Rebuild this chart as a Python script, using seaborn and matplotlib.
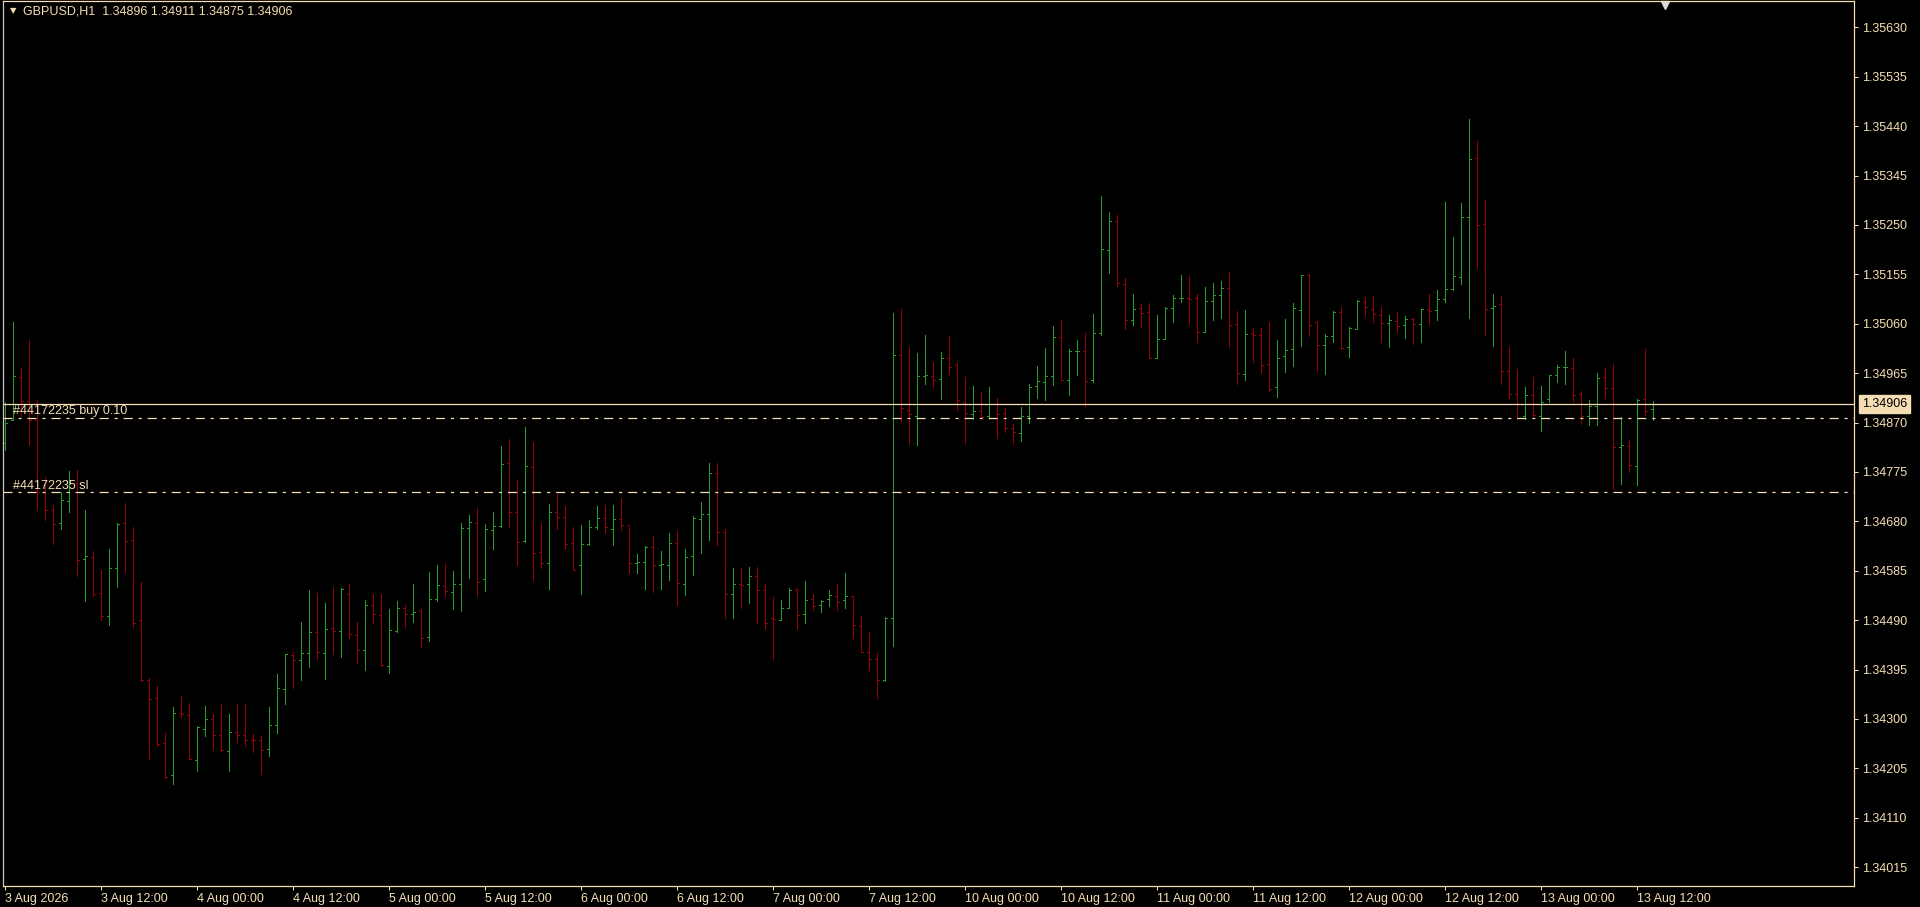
import matplotlib
matplotlib.use("Agg")
import numpy as np
import pandas as pd
import matplotlib.pyplot as plt
import seaborn as sns

# GBPUSD H1, barras OHLC
header = "GBPUSD,H1  1.34896 1.34911 1.34875 1.34906"

opens = [
    1.34830, 1.34874, 1.34957, 1.34912, 1.34874, 1.34737, 1.34701, 1.34676, 1.34720, 1.34753,
    1.34608, 1.34612, 1.34542, 1.34498, 1.34591, 1.34676, 1.34645, 1.34491, 1.34375, 1.34341,
    1.34253, 1.34192, 1.34312, 1.34308, 1.34221, 1.34280, 1.34299, 1.34269, 1.34238, 1.34274,
    1.34270, 1.34260, 1.34259, 1.34243, 1.34288, 1.34358, 1.34423, 1.34414, 1.34426, 1.34467,
    1.34426, 1.34474, 1.34469, 1.34541, 1.34461, 1.34432, 1.34519, 1.34500, 1.34402, 1.34469,
    1.34514, 1.34501, 1.34507, 1.34457, 1.34530, 1.34555, 1.34544, 1.34559, 1.34668, 1.34676,
    1.34570, 1.34664, 1.34671, 1.34792, 1.34697, 1.34643, 1.34785, 1.34621, 1.34599, 1.34697,
    1.34689, 1.34639, 1.34596, 1.34636, 1.34669, 1.34687, 1.34666, 1.34685, 1.34672, 1.34599,
    1.34601, 1.34631, 1.34596, 1.34596, 1.34639, 1.34560, 1.34613, 1.34685, 1.34694, 1.34772,
    1.34659, 1.34540, 1.34560, 1.34560, 1.34575, 1.34547, 1.34494, 1.34491, 1.34514, 1.34548,
    1.34501, 1.34530, 1.34519, 1.34530, 1.34536, 1.34528, 1.34536, 1.34478, 1.34428, 1.34416,
    1.34374, 1.34495, 1.35000, 1.34894, 1.34883, 1.34960, 1.34960, 1.34953, 1.34995, 1.34980,
    1.34909, 1.34887, 1.34892, 1.34882, 1.34905, 1.34889, 1.34860, 1.34849, 1.34883, 1.34941,
    1.34947, 1.34960, 1.35034, 1.34951, 1.35007, 1.35008, 1.34951, 1.35043, 1.35201, 1.35257,
    1.35137, 1.35068, 1.35091, 1.35082, 1.34995, 1.35030, 1.35090, 1.35109, 1.35109, 1.35109,
    1.35045, 1.35103, 1.35116, 1.35128, 1.35060, 1.34964, 1.35043, 1.35039, 1.34982, 1.34939,
    1.34998, 1.35011, 1.35087, 1.35154, 1.35063, 1.35020, 1.35037, 1.35082, 1.35015, 1.35049,
    1.35102, 1.35088, 1.35077, 1.35062, 1.35066, 1.35057, 1.35070, 1.35059, 1.35088, 1.35086,
    1.35107, 1.35127, 1.35150, 1.35266, 1.35378, 1.35251, 1.35091, 1.35097, 1.34970, 1.34924,
    1.34882, 1.34922, 1.34882, 1.34916, 1.34961, 1.34976, 1.34974, 1.34924, 1.34882, 1.34901,
    1.34957, 1.34936, 1.34823, 1.34824, 1.34787, 1.34916, 1.34896,
]
highs = [
    1.34910, 1.35063, 1.34974, 1.35028, 1.34914, 1.34766, 1.34711, 1.34737, 1.34776, 1.34778,
    1.34701, 1.34623, 1.34587, 1.34626, 1.34676, 1.34716, 1.34669, 1.34563, 1.34378, 1.34363,
    1.34272, 1.34322, 1.34344, 1.34330, 1.34286, 1.34325, 1.34310, 1.34328, 1.34310, 1.34328,
    1.34328, 1.34271, 1.34267, 1.34322, 1.34387, 1.34424, 1.34429, 1.34486, 1.34548, 1.34543,
    1.34522, 1.34554, 1.34552, 1.34560, 1.34486, 1.34528, 1.34540, 1.34541, 1.34511, 1.34527,
    1.34519, 1.34560, 1.34511, 1.34582, 1.34596, 1.34598, 1.34584, 1.34677, 1.34692, 1.34706,
    1.34675, 1.34698, 1.34825, 1.34838, 1.34759, 1.34861, 1.34832, 1.34677, 1.34713, 1.34732,
    1.34709, 1.34669, 1.34673, 1.34682, 1.34709, 1.34711, 1.34711, 1.34725, 1.34672, 1.34617,
    1.34632, 1.34652, 1.34623, 1.34657, 1.34661, 1.34626, 1.34690, 1.34717, 1.34792, 1.34792,
    1.34665, 1.34591, 1.34591, 1.34592, 1.34592, 1.34560, 1.34535, 1.34528, 1.34552, 1.34552,
    1.34565, 1.34541, 1.34528, 1.34548, 1.34559, 1.34581, 1.34536, 1.34498, 1.34468, 1.34426,
    1.34496, 1.35080, 1.35088, 1.35015, 1.35003, 1.35038, 1.34987, 1.35005, 1.35036, 1.34984,
    1.34957, 1.34940, 1.34928, 1.34938, 1.34917, 1.34897, 1.34868, 1.34899, 1.34944, 1.34978,
    1.35013, 1.35055, 1.35067, 1.35011, 1.35028, 1.35042, 1.35078, 1.35305, 1.35275, 1.35269,
    1.35148, 1.35117, 1.35098, 1.35100, 1.35076, 1.35092, 1.35115, 1.35153, 1.35151, 1.35117,
    1.35130, 1.35138, 1.35142, 1.35159, 1.35084, 1.35086, 1.35052, 1.35052, 1.35063, 1.35028,
    1.35069, 1.35100, 1.35154, 1.35156, 1.35066, 1.35040, 1.35084, 1.35092, 1.35053, 1.35105,
    1.35111, 1.35113, 1.35092, 1.35077, 1.35082, 1.35075, 1.35071, 1.35088, 1.35117, 1.35125,
    1.35294, 1.35227, 1.35292, 1.35453, 1.35411, 1.35298, 1.35117, 1.35114, 1.35015, 1.34973,
    1.34938, 1.34957, 1.34940, 1.34961, 1.34980, 1.35007, 1.34994, 1.34930, 1.34913, 1.34965,
    1.34975, 1.34982, 1.34880, 1.34836, 1.34916, 1.35011, 1.34911,
]
lows = [
    1.34818, 1.34874, 1.34882, 1.34827, 1.34701, 1.34683, 1.34637, 1.34666, 1.34697, 1.34575,
    1.34527, 1.34537, 1.34491, 1.34480, 1.34554, 1.34583, 1.34476, 1.34373, 1.34223, 1.34248,
    1.34187, 1.34174, 1.34303, 1.34222, 1.34200, 1.34267, 1.34241, 1.34238, 1.34200, 1.34256,
    1.34248, 1.34237, 1.34195, 1.34229, 1.34272, 1.34328, 1.34360, 1.34375, 1.34400, 1.34416,
    1.34376, 1.34424, 1.34419, 1.34455, 1.34408, 1.34395, 1.34485, 1.34402, 1.34389, 1.34468,
    1.34476, 1.34487, 1.34439, 1.34450, 1.34527, 1.34537, 1.34511, 1.34508, 1.34571, 1.34537,
    1.34546, 1.34626, 1.34669, 1.34669, 1.34596, 1.34641, 1.34568, 1.34591, 1.34550, 1.34665,
    1.34626, 1.34587, 1.34541, 1.34635, 1.34666, 1.34657, 1.34634, 1.34664, 1.34580, 1.34581,
    1.34550, 1.34544, 1.34550, 1.34568, 1.34520, 1.34539, 1.34576, 1.34619, 1.34645, 1.34635,
    1.34494, 1.34494, 1.34514, 1.34522, 1.34485, 1.34473, 1.34416, 1.34491, 1.34514, 1.34473,
    1.34485, 1.34509, 1.34505, 1.34518, 1.34510, 1.34514, 1.34455, 1.34428, 1.34395, 1.34341,
    1.34373, 1.34441, 1.34872, 1.34829, 1.34827, 1.34945, 1.34939, 1.34916, 1.34964, 1.34895,
    1.34831, 1.34876, 1.34878, 1.34878, 1.34841, 1.34852, 1.34831, 1.34835, 1.34870, 1.34917,
    1.34914, 1.34942, 1.34951, 1.34923, 1.34962, 1.34901, 1.34947, 1.35039, 1.35158, 1.35133,
    1.35050, 1.35058, 1.35054, 1.34995, 1.34995, 1.35030, 1.35064, 1.35102, 1.35060, 1.35025,
    1.35045, 1.35067, 1.35071, 1.35016, 1.34944, 1.34952, 1.34987, 1.34966, 1.34931, 1.34920,
    1.34968, 1.34979, 1.35018, 1.35037, 1.34970, 1.34964, 1.35025, 1.35012, 1.34996, 1.35049,
    1.35075, 1.35064, 1.35025, 1.35016, 1.35045, 1.35033, 1.35021, 1.35025, 1.35059, 1.35068,
    1.35102, 1.35124, 1.35137, 1.35071, 1.35168, 1.35039, 1.35018, 1.34945, 1.34918, 1.34876,
    1.34877, 1.34883, 1.34854, 1.34910, 1.34948, 1.34944, 1.34910, 1.34868, 1.34866, 1.34866,
    1.34918, 1.34743, 1.34752, 1.34775, 1.34750, 1.34885, 1.34875,
]
closes = [
    1.34870, 1.34959, 1.34912, 1.34874, 1.34737, 1.34701, 1.34674, 1.34721, 1.34753, 1.34605,
    1.34613, 1.34540, 1.34498, 1.34591, 1.34675, 1.34642, 1.34485, 1.34375, 1.34339, 1.34251,
    1.34189, 1.34312, 1.34310, 1.34222, 1.34284, 1.34299, 1.34270, 1.34240, 1.34274, 1.34270,
    1.34260, 1.34259, 1.34241, 1.34289, 1.34360, 1.34424, 1.34414, 1.34426, 1.34467, 1.34428,
    1.34472, 1.34469, 1.34550, 1.34463, 1.34432, 1.34519, 1.34501, 1.34403, 1.34471, 1.34514,
    1.34501, 1.34506, 1.34455, 1.34530, 1.34557, 1.34546, 1.34560, 1.34668, 1.34678, 1.34564,
    1.34666, 1.34671, 1.34790, 1.34697, 1.34641, 1.34786, 1.34620, 1.34600, 1.34698, 1.34689,
    1.34637, 1.34587, 1.34637, 1.34669, 1.34687, 1.34669, 1.34685, 1.34672, 1.34599, 1.34601,
    1.34631, 1.34596, 1.34597, 1.34639, 1.34562, 1.34612, 1.34687, 1.34694, 1.34772, 1.34659,
    1.34540, 1.34560, 1.34558, 1.34575, 1.34547, 1.34484, 1.34493, 1.34514, 1.34548, 1.34500,
    1.34528, 1.34517, 1.34527, 1.34538, 1.34525, 1.34536, 1.34480, 1.34428, 1.34416, 1.34374,
    1.34495, 1.34999, 1.34897, 1.34887, 1.34960, 1.34961, 1.34951, 1.34995, 1.34976, 1.34914,
    1.34889, 1.34892, 1.34880, 1.34905, 1.34887, 1.34860, 1.34851, 1.34882, 1.34939, 1.34949,
    1.34960, 1.35034, 1.34951, 1.35007, 1.35008, 1.34949, 1.35043, 1.35203, 1.35258, 1.35139,
    1.35068, 1.35089, 1.35080, 1.34995, 1.35030, 1.35090, 1.35109, 1.35110, 1.35107, 1.35045,
    1.35103, 1.35116, 1.35128, 1.35058, 1.34966, 1.35041, 1.35039, 1.34980, 1.34934, 1.34994,
    1.35009, 1.35090, 1.35153, 1.35057, 1.35020, 1.35037, 1.35082, 1.35013, 1.35052, 1.35103,
    1.35092, 1.35078, 1.35062, 1.35068, 1.35055, 1.35070, 1.35059, 1.35088, 1.35084, 1.35107,
    1.35126, 1.35152, 1.35266, 1.35376, 1.35249, 1.35089, 1.35095, 1.34970, 1.34924, 1.34879,
    1.34922, 1.34884, 1.34909, 1.34961, 1.34976, 1.34977, 1.34922, 1.34882, 1.34901, 1.34955,
    1.34936, 1.34822, 1.34826, 1.34789, 1.34914, 1.34893, 1.34906,
]

bid = 1.34906
buy_price = 1.34878
sl_price = 1.34737
buy_label = "#44172235 buy 0.10"
sl_label = "#44172235 sl"

price_ticks = [1.34015, 1.34110, 1.34205, 1.34300, 1.34395, 1.34490, 1.34585, 1.34680, 1.34775,
               1.34870, 1.34965, 1.35060, 1.35155, 1.35250, 1.35345, 1.35440, 1.35535, 1.35630]
time_labels = ["3 Aug 2026", "3 Aug 12:00", "4 Aug 00:00", "4 Aug 12:00", "5 Aug 00:00",
               "5 Aug 12:00", "6 Aug 00:00", "6 Aug 12:00", "7 Aug 00:00", "7 Aug 12:00",
               "10 Aug 00:00", "10 Aug 12:00", "11 Aug 00:00", "11 Aug 12:00", "12 Aug 00:00",
               "12 Aug 12:00", "13 Aug 00:00", "13 Aug 12:00"]

# horas das barras (sem o fim de semana)
times = pd.date_range("2026-08-03 00:00", "2026-08-07 23:00", freq="h").append(
    pd.date_range("2026-08-10 00:00", "2026-08-13 14:00", freq="h"))
tick_pos = [i for i, t in enumerate(times) if t.hour in (0, 12)]

fg = "#F5DEB3"
up_col = "#2A9A2A"
down_col = "#960000"

sns.set_style("dark", {"axes.facecolor": "black", "figure.facecolor": "black"})
plt.rcParams["font.family"] = ["Liberation Sans", "DejaVu Sans"]
plt.rcParams["lines.scale_dashes"] = False

# cada barra = linha máx-mín + traço de abertura (esq.) + traço de fecho (dir.)
rows = []
for i in range(len(opens)):
    d = "up" if closes[i] >= opens[i] else "down"
    rows += [(f"{i}hl", i, lows[i], d), (f"{i}hl", i, highs[i], d),
             (f"{i}o", i - 0.3, opens[i], d), (f"{i}o", i, opens[i], d),
             (f"{i}c", i, closes[i], d), (f"{i}c", i + 0.3, closes[i], d)]
segs = pd.DataFrame(rows, columns=["seg", "x", "price", "dir"])

fig = plt.figure(figsize=(19.2, 9.07), dpi=100)
ax = fig.add_axes([3 / 1920, 21 / 907, 1851 / 1920, 885 / 907])

sns.lineplot(data=segs, x="x", y="price", hue="dir", units="seg", estimator=None, sort=False,
             palette={"up": up_col, "down": down_col}, legend=False, lw=0.72,
             antialiased=False, ax=ax)

ax.set_xlim(-0.25, 231.125)
ax.set_ylim(1.339787, 1.356806)
ax.set_xlabel("")
ax.set_ylabel("")
ax.grid(False)

# linhas do preço atual e da ordem
ax.axhline(bid, color=fg, lw=0.9)
dashdot = (0, (6.5, 4.3, 2.2, 4.3))
ax.axhline(buy_price, color=fg, lw=0.9, ls=dashdot)
ax.axhline(sl_price, color=fg, lw=0.9, ls=dashdot)
ax.annotate(buy_label, xy=(1.0, buy_price), xytext=(0, 1), textcoords="offset points",
            color=fg, fontsize=9, ha="left", va="bottom")
ax.annotate(sl_label, xy=(1.0, sl_price), xytext=(0, 0), textcoords="offset points",
            color=fg, fontsize=9, ha="left", va="bottom")
ax.annotate(f"{bid:.5f}", xy=(1, bid), xycoords=("axes fraction", "data"),
            xytext=(5.5, 0), textcoords="offset points", ha="left", va="center",
            fontsize=9, color="black", annotation_clip=False,
            bbox=dict(boxstyle="square,pad=0.25", fc=fg, ec=fg))

# eixos
ax.yaxis.tick_right()
ax.set_yticks(price_ticks)
ax.set_yticklabels([f"{v:.5f}" for v in price_ticks])
ax.set_xticks(tick_pos)
ax.set_xticklabels(time_labels, ha="left")
ax.tick_params(axis="y", right=True, left=False, length=3, width=0.75, pad=3,
               color=fg, labelcolor=fg, labelsize=9, direction="out")
ax.tick_params(axis="x", bottom=True, length=3, width=0.75, pad=2,
               color=fg, labelcolor=fg, labelsize=9, direction="out")
for s in ax.spines.values():
    s.set_color(fg)
    s.set_linewidth(0.9)
ax.spines["left"].set_color("#C8C8C8")

# marcador de deslocamento do gráfico
ax.plot([207.5], [0.996], marker="v", ms=6, color="#D8D8D8", clip_on=False,
        transform=ax.get_xaxis_transform())

fig.text(13 / 1920, 1 - 11 / 907, "\u25BC", color=fg, fontsize=6, ha="center", va="center",
         family=["DejaVu Sans"])
fig.text(23 / 1920, 1 - 11 / 907, header, color=fg, fontsize=9, ha="left", va="center")

fig.savefig("out.png", dpi=100, facecolor="black")
